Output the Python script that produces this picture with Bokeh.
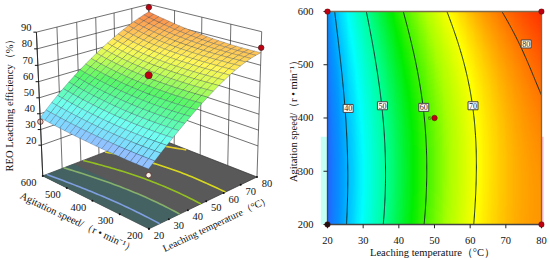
import numpy as np
from bokeh.plotting import figure
from bokeh.layouts import row
from bokeh.models import Range1d, LinearColorMapper, FixedTicker, Label
from bokeh.core.properties import value
from bokeh.embed import file_html
from bokeh.resources import INLINE

temps = [20, 30, 40, 50, 60, 70, 80]
speeds = [200, 300, 400, 500, 600]
eff_200 = [34.5, 44.5, 54.0, 62.2, 69.3, 74.7, 77.5]
eff_300 = [34.5, 44.3, 53.8, 62.0, 69.0, 74.6, 77.8]
eff_400 = [34.8, 44.3, 53.6, 61.9, 68.8, 75.0, 78.8]
eff_500 = [36.0, 46.6, 56.3, 64.3, 71.2, 77.0, 81.7]
eff_600 = [37.5, 49.0, 58.8, 67.3, 74.5, 80.6, 85.0]
levels = [40, 50, 60, 70, 80]
level_T = [25.8, 35.4, 47.0, 60.8, 75.7]
level_S = [418, 423, 420, 423, 539]
point_T = [20, 20, 80, 80, 50]
point_S = [200, 600, 200, 600, 400]
point_Z = [31, 35, 80.5, 88, 64]
z_ticks = [20, 30, 40, 50, 60, 70, 80, 90]

FONT = value("Liberation Serif")
table = np.array([eff_200, eff_300, eff_400, eff_500, eff_600])

# smooth surface through the table
def n_t(t): return (np.asarray(t, float) - 50) / 30
def n_s(s): return (np.asarray(s, float) - 400) / 200
TT, SS = np.meshgrid(temps, speeds)
V = np.polynomial.polynomial.polyvander2d(n_t(TT).ravel(), n_s(SS).ravel(), [4, 3])
coef = np.linalg.lstsq(V, table.ravel(), rcond=None)[0]
def surf(t, s):
    t, s = np.asarray(t, float), np.asarray(s, float)
    return (np.polynomial.polynomial.polyvander2d(n_t(t).ravel(), n_s(s).ravel(), [4, 3]) @ coef).reshape(t.shape)

# perspective camera, fitted to the box corners seen in the picture (last column: weight)
calib = [
    (20, 600, 0, 42.7, 176.7, 6), (20, 200, 0, 148, 228, 6), (80, 200, 0, 256.7, 176.7, 6), (80, 600, 0, 148, 132, 3),
    (20, 600, 90, 35.7, 31, 4), (80, 200, 90, 261.7, 31.7, 4), (80, 600, 90, 148, 5, 3),
    (20, 600, 20, 41, 142, 3), (20, 200, 34.5, 148, 165, 1), (80, 200, 77.5, 259, 49, 1),
]
A, b = [], []
for t, s, z, x, y, wt in calib:
    X = [(t - 20) / 60, (s - 200) / 400, z / 90, 1]
    A.append([wt * c for c in X + [0, 0, 0, 0] + [-x * c for c in X[:3]]]); b.append(wt * x)
    A.append([wt * c for c in [0, 0, 0, 0] + X + [-y * c for c in X[:3]]]); b.append(wt * y)
h = np.linalg.lstsq(np.array(A, float), np.array(b, float), rcond=None)[0]
def proj(t, s, z):
    u, v, w = (np.asarray(t, float) - 20) / 60, (np.asarray(s, float) - 200) / 400, np.asarray(z, float) / 90
    d = h[8] * u + h[9] * v + h[10] * w + 1
    return (h[0] * u + h[1] * v + h[2] * w + h[3]) / d, (h[4] * u + h[5] * v + h[6] * w + h[7]) / d

def hex2(c): return np.array([int(c[i:i + 2], 16) for i in (1, 3, 5)], float)
def ramp(stops, n=256):
    zs = [a for a, _ in stops]; cs = np.array([hex2(c) for _, c in stops])
    q = np.linspace(zs[0], zs[-1], n)
    rgb = np.column_stack([np.interp(q, zs, cs[:, i]) for i in range(3)]).round().astype(int)
    return ["#%02x%02x%02x" % tuple(r) for r in rgb]

map_stops = [(33, "#2a55ff"), (38, "#0099ff"), (44, "#00ffff"), (50, "#00ff99"), (57, "#00ee00"),
             (65, "#aaff00"), (70.5, "#ffff00"), (76, "#ffaa00"), (85, "#ff3300")]
surf_stops = [(33, "#a8a4ff"), (38, "#80d8ff"), (45, "#70fff0"), (52, "#5cfaa0"), (58, "#58f868"),
              (66, "#d0fc58"), (71, "#fff858"), (78, "#ffbc58"), (86, "#f87844")]
map_pal = ramp(map_stops)
surf_pal = ramp(surf_stops)
def pick(pal, zv, lo=33, hi=86):
    i = int(np.clip((zv - lo) / (hi - lo) * 255, 0, 255))
    return pal[i]

W, H = 275, 260
left = figure(width=W, height=H, x_range=Range1d(0, W), y_range=Range1d(H, 0), toolbar_location=None,
              output_backend="svg", min_border=0, x_axis_location=None, y_axis_location=None, title=None,
              frame_align=False)
left.grid.visible = False
left.outline_line_color = None

# walls
wall_x, wall_y = [], []
for t in temps:
    x, y = proj([t, t], [600, 600], [0, 90]); wall_x.append(x.tolist()); wall_y.append(y.tolist())
for s in speeds:
    x, y = proj([80, 80], [s, s], [0, 90]); wall_x.append(x.tolist()); wall_y.append(y.tolist())
for z in z_ticks:
    x, y = proj([20, 80, 80], [600, 600, 200], [z, z, z]); wall_x.append(x.tolist()); wall_y.append(y.tolist())
left.multi_line(wall_x, wall_y, line_color="#333333", line_width=0.7)

# floor
fx, fy = proj([20, 20, 80, 80], [600, 200, 200, 600], [0, 0, 0, 0])
left.patch(fx, fy, fill_color="#595959", line_color="#333333", line_width=0.7)
fx2, fy2 = proj([20, 20, 36, 36], [600, 200, 200, 600], [0, 0, 0, 0])
left.patch(fx2, fy2, fill_color="#3f6464", fill_alpha=0.8, line_color=None)
floor_cols = ["#7f9fe0", "#86b06c", "#93c020", "#d8d820", "#e0c828"]
ss = np.linspace(200, 600, 41)
tf = np.linspace(20, 80, 121)
for lv, c in zip(levels, floor_cols):
    pts = []
    for s in ss:
        zz = surf(tf, np.full_like(tf, s))
        if zz.max() >= lv:
            pts.append((np.interp(lv, zz, tf), s))
    pts = np.array(pts)
    x, y = proj(pts[:, 0], pts[:, 1], np.zeros(len(pts)))
    left.line(x, y, line_color=c, line_width=1.6)

# surface
n = 20
gt = np.linspace(20, 80, n + 1)
gs = np.linspace(200, 600, n + 1)
xs, ys, cols = [], [], []
for j in range(n - 1, -1, -1):
    for i in range(n - 1, -1, -1):
        tq = np.array([gt[i], gt[i + 1], gt[i + 1], gt[i]])
        sq = np.array([gs[j], gs[j], gs[j + 1], gs[j + 1]])
        zq = surf(tq, sq)
        x, y = proj(tq, sq, zq)
        xs.append(x.tolist()); ys.append(y.tolist()); cols.append(pick(surf_pal, zq.mean()))
left.patches(xs, ys, fill_color=cols, line_color="#2a3a50", line_width=0.45, line_alpha=0.6)

# points
px, py = proj(point_T, point_S, point_Z)
left.scatter(px, py, size=[5.5, 5.5, 5.5, 5.5, 7],
             fill_color=["#f4f2e6", "#f8cfc0", "#c00010", "#c00010", "#c00010"],
             line_color="#502020", line_width=0.8)

# z axis
ax, ay = proj([20, 20], [600, 600], [0, 90])
left.line(ax, ay, line_color="#222222", line_width=0.9)
zx, zy = proj([20] * len(z_ticks), [600] * len(z_ticks), z_ticks)
left.segment(zx - 3, zy, zx, zy, line_color="#111111", line_width=1)
left.text(zx - 5, zy, text=[str(z) for z in z_ticks], text_font=FONT, text_font_size="10.5px",
          text_align="right", text_baseline="middle", y_offset=-5, text_color="#111111")

# floor axes
sp = np.array(speeds)
sx, sy = proj([20] * 5, sp, [0] * 5)
left.scatter(sx, sy, size=2, fill_color="#111111", line_color=None)
left.text(sx, sy, text=[str(s) for s in speeds], text_font=FONT, text_font_size="10.5px", text_align="center",
          text_baseline="middle", x_offset=-14, y_offset=6.5, text_color="#111111")
tx, ty = proj(temps, [200] * 7, [0] * 7)
left.scatter(tx, ty, size=2, fill_color="#111111", line_color=None)
left.text(tx, ty, text=[str(t) for t in temps], text_font=FONT, text_font_size="10.5px", text_align="center",
          text_baseline="middle", x_offset=10, y_offset=6.5, text_color="#111111")

for lx, ly, ang, fs, txt in ((9, 102, 90, "10.5px", "REO Leaching efficiency（%）"),
                             (77.5, 221.7, -25.4, "10.5px", "Agitation speed/（r • min⁻¹）"),
                             (216, 223, 25.4, "10px", "Leaching temperature（°C）")):
    left.add_layout(Label(x=lx, y=ly, angle=ang, angle_units="deg", text=txt, text_font="Liberation Serif",
                          text_font_size=fs, text_align="center", text_baseline="middle",
                          text_color="#111111"))

# ---- contour map ----
X0, X1 = 18.04, 80.84
Y0, Y1 = 192.49, 605.63
right = figure(width=W, height=H, x_range=Range1d(X0, X1), y_range=Range1d(Y0, Y1),
               toolbar_location=None, output_backend="svg", title=None, frame_align=False,
               min_border_left=45, min_border_right=6, min_border_top=8, min_border_bottom=32)
right.grid.visible = False
right.outline_line_color = None

gx = np.linspace(20, 80, 241)
gy = np.linspace(200, 600, 201)
GX, GY = np.meshgrid(gx, gy)
GZ = surf(GX, GY)
mapper = LinearColorMapper(palette=map_pal, low=33, high=85)
right.quad(left=[X0], right=[20], bottom=[200], top=[365], fill_color="#c4fff6", line_color=None)
right.quad(left=[80], right=[80.6], bottom=[200], top=[365], fill_color="#ffc0d0", line_color=None)
right.image(image=[GZ], x=20, y=200, dw=60, dh=400, color_mapper=mapper)
right.contour(gx, gy, GZ, levels=levels, line_color="#102a2a", line_width=1)
right.line([20, 80, 80], [600, 600, 200], line_color="#7a6a50", line_width=1.3)
right.line([20, 20, 80], [600, 200, 200], line_color="#444444", line_width=1.3)
right.segment([t for t in temps], [200] * 7, [t for t in temps], [Y0] * 7, line_color="#222222", line_width=1)
right.segment([X0 + 1.96 - 1.12] * 5, speeds, [20] * 5, speeds, line_color="#222222", line_width=1)
right.text(level_T, level_S, text=[str(l) for l in levels], text_font=FONT, text_font_size="8px",
           text_align="center", text_baseline="middle", background_fill_color="white",
           border_line_color="#444444", border_line_width=1, padding=1, text_color="#222222")
right.scatter(point_T, point_S, size=5.5,
              fill_color=["#201010", "#c00010", "#c00010", "#c00010", "#c00010"],
              line_color="#601010", line_width=0.6)
right.text([48.6], [400], text=["6"], text_font=FONT, text_font_size="6px", text_align="center",
           text_baseline="middle", text_color="#206020")

for ax_, lab in ((right.xaxis[0], "Leaching temperature（°C）"), (right.yaxis[0], "Agitation speed/（r • min⁻¹）")):
    ax_.axis_label = lab
    ax_.axis_label_text_font = "Liberation Serif"
    ax_.axis_label_text_font_size = "10.5px"
    ax_.axis_label_text_font_style = "normal"
    ax_.axis_label_text_color = "#111111"
    ax_.major_label_text_font = "Liberation Serif"
    ax_.major_label_text_font_size = "10.5px"
    ax_.major_label_text_color = "#111111"
    ax_.axis_line_color = None
    ax_.major_tick_line_color = None
    ax_.minor_tick_line_color = None
right.xaxis[0].ticker = FixedTicker(ticks=temps)
right.yaxis[0].ticker = FixedTicker(ticks=speeds)
right.xaxis[0].major_label_standoff = 2
right.yaxis[0].major_label_standoff = 1
right.xaxis[0].axis_label_standoff = 0
right.yaxis[0].axis_label_standoff = -4
right.yaxis[0].major_label_orientation = "horizontal"

layout = row(left, right, spacing=0, width=550, height=H,
             styles={"position": "absolute", "left": "0px", "top": "0px"})
open("out.html", "w").write(file_html(layout, INLINE))
